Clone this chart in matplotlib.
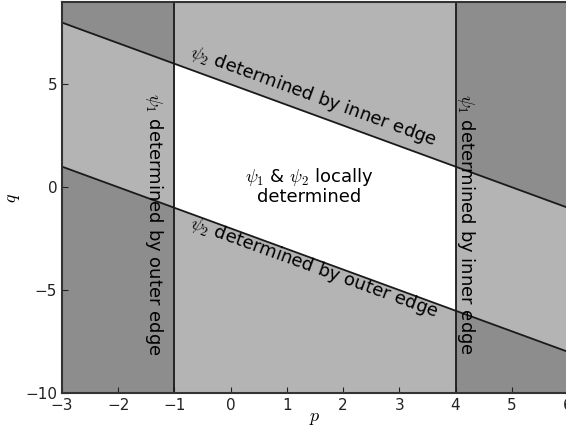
import numpy as np
import matplotlib
matplotlib.use("Agg")
import matplotlib.pyplot as plt

plt.rcParams['mathtext.fontset'] = 'cm'
plt.rcParams['font.family'] = 'DejaVu Sans'

# --- data ---
p_range = [-3, 6]
q_range = [-10, 9]
p_edges = [-1, 4]          # vertical borders
line_slope = -1
upper_intercept = 5        # q = -p + 5
lower_intercept = -2       # q = -p - 2
xtick_vals = [-3, -2, -1, 0, 1, 2, 3, 4, 5, 6]
ytick_vals = [-10, -5, 0, 5]

dark = '#8d8d8d'
light = '#b4b4b4'

fig = plt.figure(figsize=(5.66, 4.30), dpi=100)
ax = fig.add_axes([62 / 566, 37 / 430, 506 / 566, 391 / 430])
ax.set_facecolor(dark)

p = np.array(p_range, dtype=float)
upper = line_slope * p + upper_intercept
lower = line_slope * p + lower_intercept

# light bands
ax.fill_between(p, lower, upper, color=light, lw=0)
ax.axvspan(p_edges[0], p_edges[1], color=light, lw=0)

# white centre
pc = np.array(p_edges, dtype=float)
ax.fill_between(pc, line_slope * pc + lower_intercept, line_slope * pc + upper_intercept,
                color='white', lw=0)

# borders
ax.plot(p, upper, color='#1a1a1a', lw=1.3)
ax.plot(p, lower, color='#1a1a1a', lw=1.3)
for e in p_edges:
    ax.axvline(e, color='#1a1a1a', lw=1.3)

ax.set_xlim(p_range)
ax.set_ylim(q_range)
ax.set_xticks(xtick_vals)
ax.set_yticks(ytick_vals)
ax.tick_params(direction='in', labelsize=11, length=4, colors='#222222')
for s in ax.spines.values():
    s.set_color('#333333')
    s.set_linewidth(1.5)

ax.set_xlabel(r'$p$', fontsize=13, labelpad=-3)
ax.set_ylabel(r'$q$', fontsize=13, labelpad=2)

ang = -20.0
fs = 13
ax.text(1.48, 4.4, r'$\psi_2$ determined by inner edge', rotation=ang,
        ha='center', va='center', fontsize=fs, rotation_mode='anchor')
ax.text(1.48, -3.9, r'$\psi_2$ determined by outer edge', rotation=ang,
        ha='center', va='center', fontsize=fs, rotation_mode='anchor')
ax.text(-1.36, -1.8, r'$\psi_1$ determined by outer edge', rotation=-90,
        ha='center', va='center', fontsize=fs, rotation_mode='anchor')
ax.text(4.18, -1.8, r'$\psi_1$ determined by inner edge', rotation=-90,
        ha='center', va='center', fontsize=fs, rotation_mode='anchor')
ax.text(1.4, 0.05, r'$\psi_1$ & $\psi_2$ locally' + '\ndetermined',
        ha='center', va='center', fontsize=fs, linespacing=1.0)

fig.savefig('out.png', dpi=100)
